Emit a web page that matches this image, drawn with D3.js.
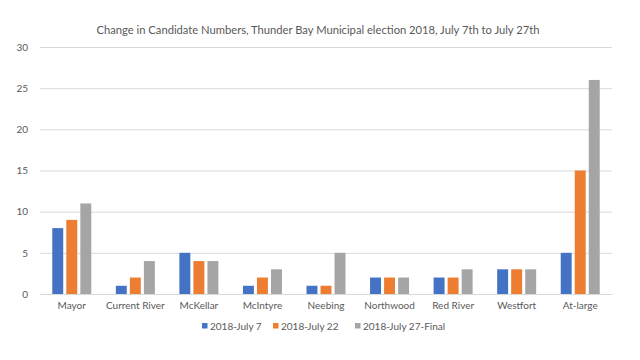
<!DOCTYPE html>
<html>
<head>
<meta charset="utf-8">
<script src="https://cdn.jsdelivr.net/npm/d3@7"></script>
<style>
  html, body { margin: 0; padding: 0; background: #fff; }
  svg { display: block; font-family: Lato, "Open Sans", sans-serif; }
</style>
</head>
<body>
<svg id="chart" width="640" height="360"></svg>
<script>
const categories = ["Mayor", "Current River", "McKellar", "McIntyre", "Neebing", "Northwood", "Red River", "Westfort", "At-large"];
const seriesNames = ["2018-July 7", "2018-July 22", "2018-July 27-Final"];
const july7 = [8, 1, 5, 1, 1, 2, 2, 3, 5];
const july22 = [9, 2, 4, 2, 1, 2, 2, 3, 15];
const july27 = [11, 4, 4, 3, 5, 2, 3, 3, 26];
const yTicks = [0, 5, 10, 15, 20, 25, 30];
const colors = ["#4472C4", "#ED7D31", "#A5A5A5"];
const title = "Change in Candidate Numbers, Thunder Bay Municipal election 2018, July 7th to July 27th";

const series = [july7, july22, july27];
const svg = d3.select("#chart");
const mLeft = 40, mRight = 612, mTop = 47, mBottom = 294;

const x = d3.scaleBand().domain(categories).range([mLeft, mRight]).paddingInner(0).paddingOuter(0);
const y = d3.scaleLinear().domain([0, 30]).range([mBottom, mTop]);
const inner = d3.scaleBand().domain(d3.range(series.length)).range([0, 39]).paddingInner(0.22);

// title
svg.append("text").attr("x", 318).attr("y", 30).attr("dy", "0.35em")
  .attr("text-anchor", "middle").attr("font-size", 11.2).attr("fill", "#595959").text(title);

// gridlines
const yAxis = d3.axisLeft(y).tickValues(yTicks).tickSize(-(mRight - mLeft)).tickPadding(12).tickFormat(d3.format("d"));
const gy = svg.append("g").attr("transform", `translate(${mLeft},0)`).call(yAxis);
gy.select(".domain").remove();
gy.selectAll(".tick line").attr("stroke", "#D9D9D9").attr("stroke-width", 1);
gy.selectAll(".tick text").attr("fill", "#595959").attr("font-size", 10).attr("font-family", "Lato, sans-serif");

// bars
const groups = svg.append("g").selectAll("g").data(categories).join("g")
  .attr("transform", d => `translate(${x(d) + x.bandwidth() / 2 - 19.5},0)`);
groups.selectAll("rect").data((d, i) => series.map((s, k) => ({ k, v: s[i] }))).join("rect")
  .attr("x", d => inner(d.k)).attr("width", inner.bandwidth())
  .attr("y", d => y(d.v)).attr("height", d => y(0) - y(d.v))
  .attr("fill", d => colors[d.k]);

// x axis
const xAxis = d3.axisBottom(x).tickSize(0).tickPadding(8);
const gx = svg.append("g").attr("transform", `translate(0,${mBottom})`).call(xAxis);
gx.select(".domain").attr("stroke", "#D9D9D9");
gx.selectAll(".tick text").attr("fill", "#595959").attr("font-size", 10).attr("font-family", "Lato, sans-serif");

// legend
const legendX = [202, 273, 355];
const lg = svg.append("g").selectAll("g").data(seriesNames).join("g")
  .attr("transform", (d, i) => `translate(${legendX[i]},326)`);
lg.append("rect").attr("x", 0).attr("y", -3).attr("width", 5.5).attr("height", 5.5).attr("fill", (d, i) => colors[i]);
lg.append("text").attr("x", 8).attr("y", 0).attr("dy", "0.35em").attr("font-size", 10).attr("fill", "#595959").text(d => d);
</script>
</body>
</html>
